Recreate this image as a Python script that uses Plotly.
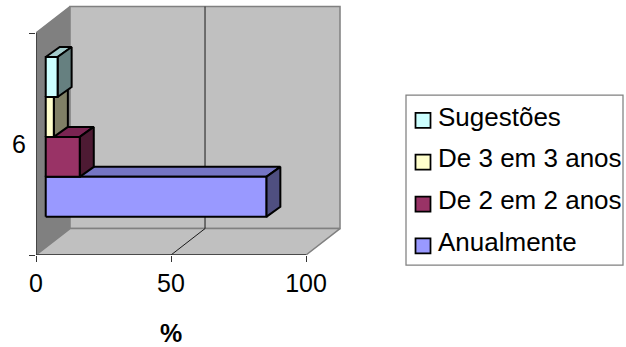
import plotly.graph_objects as go

# Data
category = "6"
series_names = ["Anualmente", "De 2 em 2 anos", "De 3 em 3 anos", "Sugestões"]
series_values = [81.7, 12.6, 3.0, 4.4]
front_colors = ["#9999FF", "#993366", "#FFFFCC", "#CCFFFF"]
top_colors = ["#7575C4", "#7A2452", "#CCCCA3", "#A3CCCC"]
side_colors = ["#4F4F80", "#4D1A33", "#808066", "#668080"]
x_ticks = [0, 50, 100]
x_gridlines = [50]

# Oblique-projection layout, in axis units (100 units = 270 px, 1 unit = 222 px)
XMAX, YMAX = 100, 1
DX, DY = 12.6, 0.119            # wall depth
BAR_DX, BAR_DY = 5.2, 0.045     # bar depth
INSET_X = 3.6                   # front face offset from the left wall
BAND_Y0, BAND_H = 0.172, 0.18   # first bar bottom and height of one bar
PX_X, PX_Y = 100 / 270, 1 / 222
PLOT_W, PLOT_H = 309, 252

fig = go.Figure()
GRAY = "#808080"
AXIS = "#333333"


def poly(xs, ys, fill, line, width):
    fig.add_trace(go.Scatter(
        x=xs + xs[:1], y=ys + ys[:1], mode="lines", fill="toself", fillcolor=fill,
        line=dict(color=line, width=width),
        showlegend=False, hoverinfo="skip", cliponaxis=False))


def path(xs, ys, color, width):
    fig.add_trace(go.Scatter(
        x=xs, y=ys, mode="lines", line=dict(color=color, width=width),
        showlegend=False, hoverinfo="skip", cliponaxis=False))


# left wall, back wall, floor
poly([0, DX, DX, 0], [YMAX, YMAX + DY, DY, 0], GRAY, GRAY, 1.5)
poly([DX, XMAX + DX, XMAX + DX, DX], [DY, DY, YMAX + DY, YMAX + DY], "#C0C0C0", GRAY, 1.5)
poly([0, DX, XMAX + DX, XMAX], [0, DY, DY, 0], "#C0C0C0", GRAY, 1.5)

# gridline on back wall and floor
for gx in x_gridlines:
    path([gx, gx + DX, gx + DX], [0, DY, YMAX + DY], "#1A1A1A", 1)

# front axis lines
path([0, 0], [0, YMAX], AXIS, 1.5)
path([0, XMAX], [0, 0], AXIS, 1.5)

# bars: painted from the bottom up
for i, v in enumerate(series_values):
    x0, x1 = INSET_X, INSET_X + v
    y0 = BAND_Y0 + i * BAND_H
    y1 = y0 + BAND_H
    poly([x0, x1, x1 + BAR_DX, x0 + BAR_DX], [y1, y1, y1 + BAR_DY, y1 + BAR_DY], top_colors[i], "#000000", 2)
    poly([x1, x1 + BAR_DX, x1 + BAR_DX, x1], [y0, y0 + BAR_DY, y1 + BAR_DY, y1], side_colors[i], "#000000", 2)
    poly([x0, x1, x1, x0], [y0, y0, y1, y1], front_colors[i], "#000000", 2)

# legend entries, top to bottom
for i in reversed(range(len(series_names))):
    fig.add_trace(go.Scatter(
        x=[None], y=[None], mode="markers", name=series_names[i], legendgroup=series_names[i],
        marker=dict(symbol="square", size=15, color=front_colors[i], line=dict(color="#000000", width=1.75))))

fig.update_layout(
    width=626, height=347,
    margin=dict(l=36, r=281, t=3, b=92, autoexpand=False),
    paper_bgcolor="white", plot_bgcolor="white",
    font=dict(family="Liberation Sans", size=25, color="#000000"),
    showlegend=True,
    legend=dict(
        x=(398 - 36) / PLOT_W, xanchor="left", y=(255 - 92) / PLOT_H, yanchor="top",
        bgcolor="rgba(0,0,0,0)", borderwidth=0,
        font=dict(size=26), tracegroupgap=5, itemclick=False, itemdoubleclick=False),
    xaxis=dict(
        range=[0, PLOT_W * PX_X], tickvals=x_ticks, showgrid=False, zeroline=False, showline=False,
        ticks="outside", ticklen=6, tickcolor=AXIS, tickwidth=1),
    yaxis=dict(
        range=[0, PLOT_H * PX_Y], tickvals=[0.5], ticktext=[category], showgrid=False, zeroline=False,
        showline=False, ticks="outside", ticklen=0, ticklabelstandoff=4,
        minor=dict(tickvals=[0, 1], ticks="outside", ticklen=6, tickcolor=AXIS, showgrid=False)),
    annotations=[dict(text="<b>%</b>", x=50, xref="x", y=-94 / PLOT_H, yref="paper",
                      showarrow=False, font=dict(size=25))],
    shapes=[dict(type="rect", xref="paper", yref="paper",
                 x0=(406 - 36) / PLOT_W, x1=(623 - 36) / PLOT_W,
                 y0=(255 - 265) / PLOT_H, y1=(255 - 95) / PLOT_H,
                 line=dict(color=GRAY, width=1.25), fillcolor="white", layer="below")],
)

fig.write_html("out.html", config=dict(displayModeBar=False),
               post_script="document.body.style.margin='0';"
                           "document.querySelectorAll('.legendsymbols').forEach(function(s){"
                           "s.setAttribute('transform','translate(5,5)');});")
